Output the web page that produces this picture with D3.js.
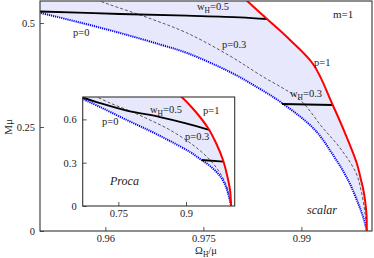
<!DOCTYPE html>
<html>
<head>
<meta charset="utf-8">
<script src="https://cdn.jsdelivr.net/npm/d3@7"></script>
<style>
  body { margin: 0; background: #fff; }
  svg text { font-family: "Liberation Serif", "Times New Roman", Times, serif; fill: #222; }
</style>
</head>
<body>
<div id="chart"></div>
<script>
// tick labels
const omegaTicks = [0.96, 0.975, 0.99];
const massTicks = [0, 0.25, 0.5];
const insetOmegaTicks = [0.75, 0.9];
const insetMassTicks = [0, 0.3, 0.6];

// scalar clouds (main panel), [Omega_H/mu, M mu]
const scalarP0 = [[0.9495, 0.5266], [0.95612, 0.5013], [0.96224, 0.4761], [0.96836, 0.4484], [0.97249, 0.4280],
  [0.97907, 0.3823], [0.98290, 0.3486], [0.98673, 0.3109], [0.99193, 0.2453], [0.99484, 0.1827],
  [0.99713, 0.1226], [0.99866, 0.0673], [0.99958, 0.0264], [1.0, 0]];
const scalarP03 = [[0.95796, 0.5602], [0.96041, 0.5458], [0.96683, 0.5109], [0.97249, 0.4761], [0.97907, 0.4208],
  [0.98367, 0.3751], [0.98979, 0.3150], [0.99315, 0.2501], [0.99591, 0.1996], [0.99836, 0.1395],
  [0.99927, 0.0866], [0.99973, 0.0433], [1.0, 0]];
const scalarP1 = [[0.98137, 0.5578], [0.98474, 0.5097], [0.98826, 0.4592], [0.99188, 0.3991], [0.99479, 0.3030],
  [0.99667, 0.2356], [0.99846, 0.1635], [0.99912, 0.1226], [0.99942, 0.1034], [0.99973, 0.0745],
  [0.99996, 0.0385], [1.0, 0]];
const scalarW05 = [[0.95, 0.5278], [0.96224, 0.5218], [0.97249, 0.5177], [0.98060, 0.5138], [0.98474, 0.5097]];
const scalarW03 = [[0.98703, 0.3054], [0.99479, 0.3030]];

// Proca clouds (inset)
const procaP0 = [[0.6650, 0.7500], [0.7094, 0.6856], [0.7686, 0.5956], [0.8206, 0.5194], [0.8646, 0.4501],
  [0.9090, 0.3740], [0.9312, 0.3255], [0.9533, 0.2770], [0.9755, 0.2078], [0.9888, 0.1316],
  [0.9955, 0.0623], [1.0, 0]];
const procaP03 = [[0.6961, 0.7652], [0.7315, 0.7133], [0.7759, 0.6579], [0.8202, 0.5956], [0.8646, 0.5263],
  [0.9156, 0.4224], [0.9533, 0.3186], [0.9755, 0.2285], [0.9888, 0.1454], [0.9955, 0.0623], [1.0, 0]];
const procaP1 = [[0.8823, 0.7756], [0.8905, 0.7548], [0.9200, 0.6579], [0.9488, 0.5402], [0.9666, 0.4363],
  [0.9821, 0.3186], [0.9910, 0.2147], [0.9976, 0.1108], [1.0, 0]];
const procaW05 = [[0.671, 0.7514], [0.7094, 0.7133], [0.7686, 0.6614], [0.8424, 0.6163], [0.8978, 0.5748], [0.9533, 0.5263]];
const procaW03 = [[0.9349, 0.3186], [0.9829, 0.3068]];

const W = 374, H = 258;
const FONT = "Liberation Serif, Times New Roman, serif";
const svg = d3.select("#chart").append("svg").attr("width", W).attr("height", H)
  .attr("font-family", FONT);

const FILL = "#e8e8fc";

function panel(g, x, y, id, curves) {
  const [x0, x1] = x.range(), [y0, y1] = y.range();
  g.append("clipPath").attr("id", id)
    .append("rect").attr("x", x0).attr("y", y1).attr("width", x1 - x0).attr("height", y0 - y1);
  const c = g.append("g").attr("clip-path", `url(#${id})`);
  const line = d3.line().x(d => x(d[0])).y(d => y(d[1])).curve(d3.curveCatmullRom.alpha(0.5));

  // shaded band between p=0 and p=1
  const top = y.domain()[1] + 0.05;
  const lower = line(curves.p0);
  const upper = line(curves.p1.slice().reverse()).replace(/^M/, "L");
  const corner = `L${x(curves.p0[0][0])},${y(top)}Z`;
  c.append("path").attr("d", lower + upper + corner).attr("fill", FILL);

  c.append("path").attr("d", line(curves.p03)).attr("fill", "none")
    .attr("stroke", "#333").attr("stroke-width", 0.8).attr("stroke-dasharray", "3,2");
  c.append("path").attr("d", line(curves.p0)).attr("fill", "none")
    .attr("stroke", "#0000ff").attr("stroke-width", 2).attr("stroke-dasharray", "1.2,0.9");
  c.append("path").attr("d", line(curves.w05)).attr("fill", "none")
    .attr("stroke", "#000").attr("stroke-width", 1.8);
  c.append("path").attr("d", line(curves.w03)).attr("fill", "none")
    .attr("stroke", "#000").attr("stroke-width", 1.8);
  c.append("path").attr("d", line(curves.p1)).attr("fill", "none")
    .attr("stroke", "#ff0000").attr("stroke-width", 2);
}

function axes(g, x, y, xt, yt, padX, padY) {
  const [x0, x1] = x.range(), [y0, y1] = y.range();
  const ax = g.append("g").attr("transform", `translate(0,${y0})`)
    .call(d3.axisBottom(x).tickValues(xt).tickFormat(d => String(d)).tickSizeInner(-4).tickSizeOuter(0).tickPadding(padX));
  const ay = g.append("g").attr("transform", `translate(${x0},0)`)
    .call(d3.axisLeft(y).tickValues(yt).tickFormat(d => String(d)).tickSizeInner(-4).tickSizeOuter(0).tickPadding(padY));
  [ax, ay].forEach(a => {
    a.attr("font-family", FONT);
    a.select(".domain").remove();
    a.selectAll("line").attr("stroke", "#555");
    a.selectAll("text").attr("font-size", "10.5px").attr("fill", "#333");
  });
  g.append("rect").attr("x", x0).attr("y", y1).attr("width", x1 - x0).attr("height", y0 - y1)
    .attr("fill", "none").attr("stroke", "#333").attr("stroke-width", 1.1);
}

function label(g, px, py, parts, opts = {}) {
  const t = g.append("text").attr("x", px).attr("y", py)
    .attr("font-size", opts.size || "10.5px").attr("font-style", opts.italic ? "italic" : null);
  parts.forEach(p => {
    const s = t.append("tspan").text(p.t);
    if (p.sub) s.attr("font-size", "7.5px").attr("dy", 2.5);
    if (p.up) s.attr("dy", -2.5);
  });
  return t;
}

// main panel
const x = d3.scaleLinear().domain([0.95, 1.0008]).range([40, 372]);
const y = d3.scaleLinear().domain([0, 0.553]).range([231, 1]);
const main = svg.append("g");
panel(main, x, y, "clipMain", { p0: scalarP0, p03: scalarP03, p1: scalarP1, w05: scalarW05, w03: scalarW03 });
axes(main, x, y, omegaTicks, massTicks, 3.5, 5);

label(main, 333, 18, [{ t: "m=1" }], { size: "11px" });
label(main, 314, 66, [{ t: "p=1" }]);
label(main, 222, 48, [{ t: "p=0.3" }]);
label(main, 73, 36, [{ t: "p=0" }]);
label(main, 197, 10, [{ t: "w" }, { t: "H", sub: true }, { t: "=0.5", up: true }]);
label(main, 290, 97, [{ t: "w" }, { t: "H", sub: true }, { t: "=0.3", up: true }]);
label(main, 307, 214, [{ t: "scalar" }], { size: "12px", italic: true });

main.append("text").attr("transform", "translate(12,127) rotate(-90)")
  .attr("text-anchor", "middle").attr("font-size", "11px").text("Mμ");
const xt = main.append("text").attr("x", 206).attr("y", 254).attr("text-anchor", "middle").attr("font-size", "10.5px");
xt.append("tspan").text("Ω");
xt.append("tspan").text("H").attr("font-size", "7.5px").attr("dy", 2.5);
xt.append("tspan").text("/μ").attr("dy", -2.5);

// inset panel
const xi = d3.scaleLinear().domain([0.671, 1.008]).range([82.7, 234.7]);
const yi = d3.scaleLinear().domain([0, 0.755]).range([206, 97]);
const inset = svg.append("g");
inset.append("rect").attr("x", 82.7).attr("y", 97).attr("width", 152).attr("height", 109).attr("fill", "#fff");
panel(inset, xi, yi, "clipInset", { p0: procaP0, p03: procaP03, p1: procaP1, w05: procaW05, w03: procaW03 });
axes(inset, xi, yi, insetOmegaTicks, insetMassTicks, 4, 6);

label(inset, 150, 113, [{ t: "w" }, { t: "H", sub: true }, { t: "=0.5", up: true }]);
label(inset, 203, 114, [{ t: "p=1" }]);
label(inset, 102, 125, [{ t: "p=0" }]);
label(inset, 185, 140, [{ t: "p=0.3" }]);
label(inset, 110, 185, [{ t: "Proca" }], { size: "12px", italic: true });
</script>
</body>
</html>
